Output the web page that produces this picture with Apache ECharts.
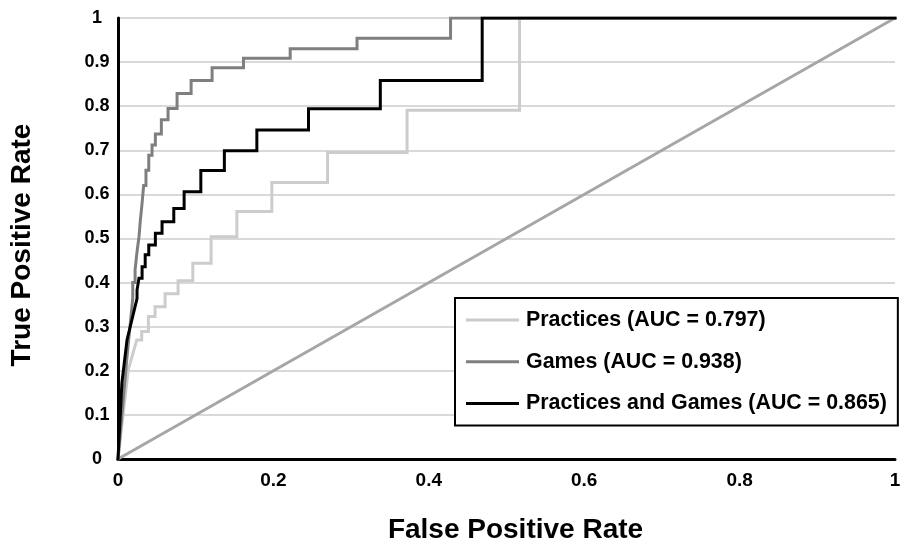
<!DOCTYPE html>
<html>
<head>
<meta charset="utf-8">
<title>ROC curves</title>
<script src="https://cdn.jsdelivr.net/npm/echarts@6/dist/echarts.min.js"></script>
<style>
  html, body { margin: 0; padding: 0; background: #ffffff; }
  #chart { width: 900px; height: 545px; }
</style>
</head>
<body>
<div id="chart"></div>
<script>
// ROC curve vertices (false positive rate, true positive rate), in threshold order
const practicesFpr = [0, 0.0132, 0.0241, 0.0305, 0.0305, 0.0391, 0.0391, 0.0477, 0.0477, 0.0606, 0.0606, 0.0773, 0.0773, 0.0963, 0.0963, 0.1198, 0.1198, 0.153, 0.153, 0.198, 0.198, 0.2697, 0.2697, 0.372, 0.372, 0.5168, 0.5168, 1];
const practicesTpr = [0, 0.202, 0.270, 0.270, 0.289, 0.289, 0.323, 0.323, 0.345, 0.345, 0.375, 0.375, 0.404, 0.404, 0.444, 0.444, 0.504, 0.504, 0.561, 0.561, 0.627, 0.627, 0.695, 0.695, 0.791, 0.791, 1, 1];

const gamesFpr = [0, 0.0116, 0.019, 0.019, 0.022, 0.022, 0.0245, 0.0245, 0.027, 0.027, 0.0287, 0.0287, 0.031, 0.031, 0.033, 0.033, 0.036, 0.036, 0.0396, 0.0396, 0.0438, 0.0438, 0.0481, 0.0481, 0.0558, 0.0558, 0.0644, 0.0644, 0.0760, 0.0760, 0.0941, 0.0941, 0.1211, 0.1211, 0.1615, 0.1615, 0.2216, 0.2216, 0.3076, 0.3076, 0.428, 0.428, 1];
const gamesTpr = [0, 0.232, 0.365, 0.40, 0.40, 0.429, 0.429, 0.47, 0.47, 0.504, 0.504, 0.54, 0.54, 0.58, 0.58, 0.62, 0.62, 0.655, 0.655, 0.689, 0.689, 0.712, 0.712, 0.737, 0.737, 0.769, 0.769, 0.795, 0.795, 0.829, 0.829, 0.858, 0.858, 0.887, 0.887, 0.909, 0.909, 0.930, 0.930, 0.954, 0.954, 1, 1];

const bothFpr = [0, 0.005, 0.0116, 0.0245, 0.0245, 0.027, 0.027, 0.031, 0.031, 0.035, 0.035, 0.0396, 0.0396, 0.0481, 0.0481, 0.0567, 0.0567, 0.0718, 0.0718, 0.0851, 0.0851, 0.1066, 0.1066, 0.1369, 0.1369, 0.1787, 0.1787, 0.2452, 0.2452, 0.3376, 0.3376, 0.4687, 0.4687, 1];
const bothTpr = [0, 0.172, 0.27, 0.364, 0.383, 0.383, 0.41, 0.41, 0.436, 0.436, 0.463, 0.463, 0.485, 0.485, 0.512, 0.512, 0.538, 0.538, 0.568, 0.568, 0.606, 0.606, 0.654, 0.654, 0.699, 0.699, 0.746, 0.746, 0.794, 0.794, 0.858, 0.858, 1, 1];

// chance line
const chanceFpr = [0, 1];
const chanceTpr = [0, 1];

const seriesNames = ['Practices (AUC = 0.797)', 'Games (AUC = 0.938)', 'Practices and Games (AUC = 0.865)'];

const xTicks = { min: 0, max: 1, interval: 0.2 };
const yTicks = { min: 0, max: 1, interval: 0.1 };

const pair = (xs, ys) => xs.map((x, i) => [x, ys[i]]);

const FONT = '"Liberation Sans", Arial, Helvetica, sans-serif';

const chart = echarts.init(document.getElementById('chart'), null, { renderer: 'canvas' });

function rocSeries(name, xs, ys, color) {
  return {
    name: name,
    type: 'line',
    data: pair(xs, ys),
    symbol: 'none',
    showSymbol: false,
    silent: true,
    lineStyle: { color: color, width: 3, cap: 'square', join: 'miter' },
    itemStyle: { color: color }
  };
}

chart.setOption({
  backgroundColor: '#ffffff',
  animation: false,
  grid: { left: 118, right: 5, top: 18, bottom: 86, containLabel: false, outerBoundsMode: 'none' },
  xAxis: {
    type: 'value',
    min: xTicks.min, max: xTicks.max, interval: xTicks.interval,
    name: 'False Positive Rate',
    nameLocation: 'middle',
    nameGap: 57,
    nameTextStyle: { fontFamily: FONT, fontWeight: 'bold', fontSize: 28, color: '#000', padding: [0, 0, 0, 18] },
    axisLine: { show: true, onZero: false, lineStyle: { color: '#000', width: 3 } },
    axisTick: { show: false },
    splitLine: { show: false },
    axisLabel: { fontFamily: FONT, fontWeight: 'bold', fontSize: 19, color: '#000', margin: 12 }
  },
  yAxis: {
    type: 'value',
    min: yTicks.min, max: yTicks.max, interval: yTicks.interval,
    name: 'True Positive Rate',
    nameLocation: 'middle',
    nameGap: 82,
    nameTextStyle: { fontFamily: FONT, fontWeight: 'bold', fontSize: 28, color: '#000', padding: [0, 13, 0, 0] },
    axisLine: { show: true, onZero: false, lineStyle: { color: '#000', width: 3 } },
    axisTick: { show: false },
    splitLine: { show: true, lineStyle: { color: '#d9d9d9', width: 2 } },
    axisLabel: { fontFamily: FONT, fontWeight: 'bold', fontSize: 18, color: '#000', margin: 21, align: 'center' }
  },
  legend: {
    data: seriesNames,
    orient: 'vertical',
    left: 455,
    top: 298,
    padding: [10, 11, 10, 11],
    itemGap: 17.7,
    itemWidth: 53,
    itemHeight: 3,
    icon: 'rect',
    backgroundColor: '#ffffff',
    borderColor: '#000000',
    borderWidth: 2,
    borderRadius: 0,
    selectedMode: false,
    textStyle: { fontFamily: FONT, fontWeight: 'bold', fontSize: 21.4, color: '#000', lineHeight: 24, padding: [0, 0, 0, 2] }
  },
  series: [
    {
      name: 'chance',
      type: 'line',
      data: pair(chanceFpr, chanceTpr),
      symbol: 'none',
      silent: true,
      lineStyle: { color: '#a6a6a6', width: 3 }
    },
    rocSeries(seriesNames[0], practicesFpr, practicesTpr, '#cccccc'),
    rocSeries(seriesNames[1], gamesFpr, gamesTpr, '#7f7f7f'),
    rocSeries(seriesNames[2], bothFpr, bothTpr, '#000000')
  ]
});
</script>
</body>
</html>
